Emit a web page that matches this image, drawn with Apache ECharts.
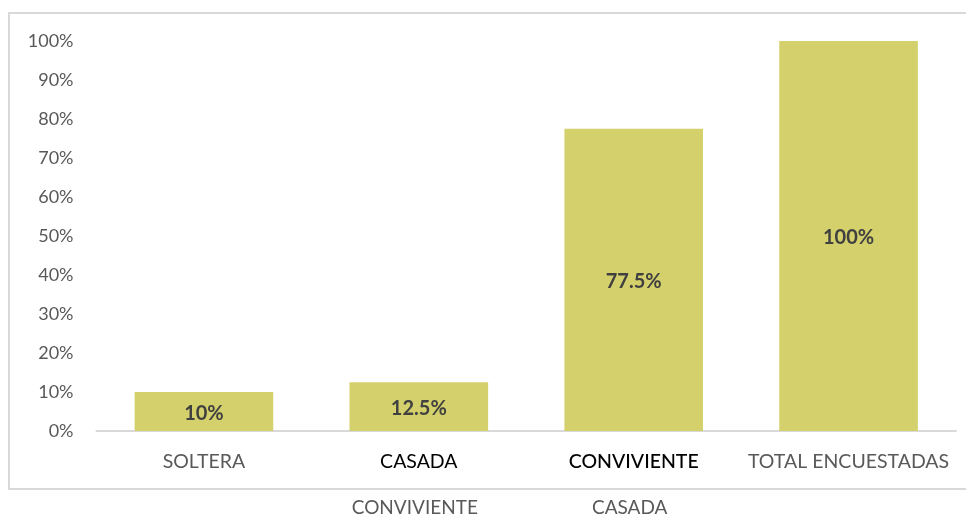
<!DOCTYPE html>
<html>
<head>
<meta charset="utf-8">
<script src="https://cdn.jsdelivr.net/npm/echarts@6/dist/echarts.min.js"></script>
<style>
  html, body { margin: 0; padding: 0; background: #ffffff; }
  #chart { width: 966px; height: 519px; }
</style>
</head>
<body>
<div id="chart"></div>
<script>
// Estado civil de las encuestadas (porcentaje)
const categories = ['SOLTERA', 'CASADA', 'CONVIVIENTE', 'TOTAL ENCUESTADAS'];
const subLabels = ['', 'CONVIVIENTE', 'CASADA', ''];
const values = [10, 12.5, 77.5, 100];
const valueLabels = ['10%', '12.5%', '77.5%', '100%'];
const yTicks = [0, 10, 20, 30, 40, 50, 60, 70, 80, 90, 100];

const FONT = 'Lato, "Open Sans", sans-serif';
const styleKey = ['gray', 'dark', 'darkb', 'gray'];

const chart = echarts.init(document.getElementById('chart'), null, { renderer: 'canvas' });

chart.setOption({
  animation: false,
  backgroundColor: '#ffffff',
  graphic: [{
    type: 'rect',
    shape: { x: 9, y: 13, width: 970, height: 476 },
    style: { fill: 'none', stroke: '#d9d9d9', lineWidth: 2 },
    silent: true,
    z: -1
  }],
  grid: { left: 96.5, right: 10, top: 41, bottom: 88, containLabel: false },
  xAxis: [{
    type: 'category',
    data: categories,
    axisLine: { show: true, lineStyle: { color: '#d9d9d9', width: 2 } },
    axisTick: { show: false },
    axisLabel: {
      margin: 21,
      interval: 0,
      formatter: function (v, i) { return '{' + styleKey[i] + '|' + v + '}'; },
      rich: {
        gray: { color: '#595959', fontSize: 19.5, fontFamily: FONT },
        dark: { color: '#000000', fontSize: 19.5, fontFamily: FONT },
        darkb: { color: '#000000', fontSize: 19.5, fontFamily: FONT, fontWeight: 500 }
      }
    }
  }, {
    type: 'category',
    data: subLabels,
    position: 'bottom',
    offset: 46,
    axisLine: { show: false },
    axisTick: { show: false },
    axisLabel: {
      margin: 21,
      interval: 0,
      color: '#595959',
      fontSize: 19,
      fontFamily: FONT,
      padding: [0, 8, 0, 0]
    }
  }],
  yAxis: {
    type: 'value',
    min: yTicks[0],
    max: yTicks[yTicks.length - 1],
    interval: 10,
    axisLine: { show: false },
    axisTick: { show: false },
    splitLine: { show: false },
    axisLabel: {
      margin: 23,
      color: '#595959',
      fontSize: 18,
      fontFamily: FONT,
      formatter: '{value}%'
    }
  },
  series: [{
    type: 'bar',
    data: values,
    barCategoryGap: '35.5%',
    itemStyle: { color: '#d4d16c' },
    label: {
      show: true,
      position: 'inside',
      color: '#404040',
      fontSize: 20,
      fontWeight: 'bold',
      fontFamily: FONT,
      offset: [0, 2],
      formatter: function (p) { return valueLabels[p.dataIndex]; }
    }
  }]
});
</script>
</body>
</html>
